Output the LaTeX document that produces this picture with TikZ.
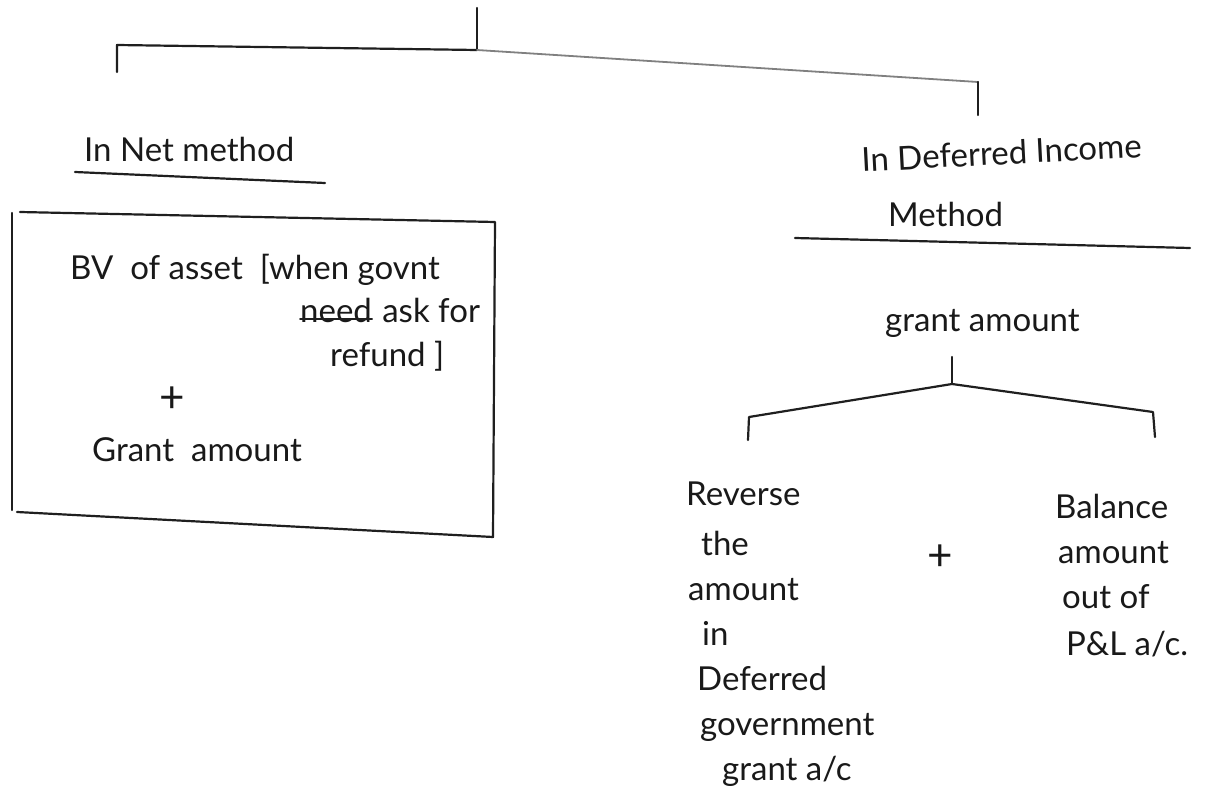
\documentclass[tikz,border=0pt]{standalone}
\usepackage{fontspec}
\setmainfont{Lato}
\usetikzlibrary{calc}
\begin{document}
\begin{tikzpicture}[x=1pt,y=-1pt,line cap=round,line join=round,
  ink/.style={draw=black!88,line width=2.2pt},
  faint/.style={draw=black!50,line width=1.8pt},
  hand/.style={font=\fontsize{33}{33}\selectfont,text=black!90,inner sep=0pt,anchor=base west},
  sign/.style={font=\fontsize{44}{44}\selectfont,text=black!90,inner sep=0pt}]
\useasboundingbox (0,0) rectangle (1213,789);

% top branch
\coordinate (root) at (477,8);
\coordinate (fork) at (477,50);
\coordinate (lcorner) at (117,45);
\coordinate (lend) at (117,72);
\coordinate (rcorner) at (978,82);
\coordinate (rend) at (978,115);
\draw[ink] (root) -- (fork);
\draw[ink] (lend) -- (lcorner) -- (fork);
\draw[faint] (fork) -- (rcorner);
\draw[ink] (rcorner) -- (rend);

% net method
\node[hand] (net) at (84,161) {In Net method};
\coordinate (netA) at (75,172);
\coordinate (netB) at (325,183);
\draw[ink] (netA) -- (netB);

% net method box
\coordinate (b1) at (20,212);
\coordinate (b2) at (495,222);
\coordinate (b3) at (493,537);
\coordinate (b4) at (17,512);
\coordinate (b5) at (12,510);
\coordinate (b6) at (12,213);
\draw[ink] (b1) -- (b2) -- (b3) -- (b4);
\draw[ink] (b5) -- (b6);
\node[hand] (bv) at (70,279) {BV\ \ of asset\ \ [when govnt};
\node[hand] (need) at (300,322) {need};
\draw[ink,line width=1.6pt] ($(need.base west)+(0,-3)$) -- ($(need.base east)+(0,-3)$);
\node[hand,anchor=base west] (ask) at ($(need.base east)+(10,0)$) {ask for};
\node[hand] (refund) at (330,366) {refund ]};
\node[sign] (plusL) at (172,400) {+};
\node[hand] (grantL) at (92,461) {Grant\ \ amount};

% deferred income method
\node[hand,rotate=3] (dim) at (862,172) {In Deferred Income};
\node[hand] (meth) at (888,226) {Method};
\coordinate (dA) at (795,238);
\coordinate (dB) at (1190,248);
\draw[ink] (dA) -- (dB);
\node[hand] (grantR) at (885,331) {grant amount};

% split of the grant
\coordinate (sTop) at (952,357);
\coordinate (sFork) at (952,384);
\coordinate (sL) at (749,417);
\coordinate (sLend) at (748,440);
\coordinate (sR) at (1153,412);
\coordinate (sRend) at (1155,437);
\draw[ink] (sTop) -- (sFork);
\draw[ink] (sLend) -- (sL) -- (sFork) -- (sR) -- (sRend);

\node[hand] (c1) at (686,505) {Reverse};
\node[hand] (c2) at (701,555) {the};
\node[hand] (c3) at (688,600) {amount};
\node[hand] (c4) at (702,645) {in};
\node[hand] (c5) at (697,690) {Deferred};
\node[hand] (c6) at (700,735) {government};
\node[hand] (c7) at (722,780) {grant a/c};

\node[sign] (plusR) at (940,558) {+};

\node[hand] (d1) at (1055,518) {Balance};
\node[hand] (d2) at (1058,563) {amount};
\node[hand] (d3) at (1062,608) {out of};
\node[hand] (d4) at (1066,655) {P\&L a/c.};
\end{tikzpicture}
\end{document}
